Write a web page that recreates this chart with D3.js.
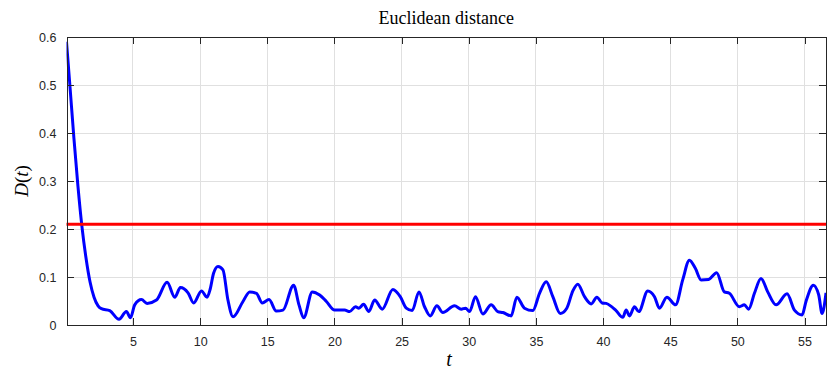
<!DOCTYPE html>
<html><head><meta charset="utf-8">
<script src="https://cdn.jsdelivr.net/npm/d3@7"></script>
<style>body{margin:0;background:#fff}svg{display:block}</style>
</head><body>
<svg id="c" width="827" height="370"></svg>
<script>
const tVals = [0.05,0.3,0.6,0.9,1.2,1.5,1.8,2.1,2.4,2.65,3.27,3.96,4.51,4.81,5.13,5.63,6.05,6.75,7.54,8.11,8.53,9.1,9.52,10.1,10.51,10.75,11.0,11.33,11.7,12.07,12.45,13.19,13.69,14.19,14.63,15.13,15.67,16.17,16.96,17.36,17.71,18.35,18.9,19.4,20.01,20.76,21.13,21.57,21.82,22.17,22.56,22.99,23.56,24.35,24.9,25.35,25.79,26.29,26.71,27.13,27.63,28.07,28.94,29.44,29.76,30.06,30.5,31.05,31.67,32.16,32.54,33.16,33.58,34.15,34.77,35.27,35.77,36.26,36.81,37.3,37.75,38.12,38.62,39.12,39.54,39.93,40.23,40.97,41.47,41.72,41.97,42.34,42.66,43.33,43.83,44.2,44.75,45.4,45.93,46.43,46.87,47.3,47.86,48.46,49.03,49.4,50.15,50.52,50.84,51.27,51.76,52.26,52.88,53.7,54.25,54.82,55.11,55.66,56.06,56.31,56.6];
const dVals = [0.59,0.50,0.39,0.29,0.205,0.14,0.09,0.058,0.040,0.034,0.030,0.012,0.028,0.015,0.042,0.053,0.045,0.052,0.089,0.058,0.078,0.067,0.046,0.071,0.058,0.075,0.108,0.122,0.115,0.052,0.017,0.049,0.069,0.066,0.046,0.053,0.029,0.031,0.083,0.042,0.015,0.069,0.0625,0.049,0.031,0.031,0.028,0.038,0.035,0.043,0.028,0.052,0.033,0.074,0.059,0.035,0.030,0.069,0.038,0.019,0.040,0.026,0.040,0.033,0.035,0.028,0.059,0.023,0.042,0.028,0.026,0.019,0.058,0.035,0.030,0.066,0.090,0.059,0.024,0.035,0.071,0.085,0.059,0.044,0.058,0.046,0.045,0.030,0.016,0.031,0.019,0.038,0.028,0.071,0.059,0.035,0.058,0.042,0.094,0.135,0.118,0.094,0.095,0.109,0.069,0.066,0.038,0.042,0.033,0.066,0.097,0.069,0.042,0.065,0.031,0.021,0.049,0.083,0.0625,0.024,0.067];
const thresholdVal = 0.21;
const xTicks = [5,10,15,20,25,30,35,40,45,50,55];
const yTicks = [0,0.1,0.2,0.3,0.4,0.5,0.6];
const titleText = "Euclidean distance";

const svg = d3.select("#c");
const L = 66.5, R = 826, T = 37, B = 325;
const x = d3.scaleLinear().domain([0.05, 56.6]).range([L, R]);
const y = d3.scaleLinear().domain([0, 0.6]).range([B, T]);
const axisCol = "#262626", gridCol = "#e0e0e0";
const tickFont = "'Liberation Sans', Arial, sans-serif";
const serif = "'Liberation Serif', 'DejaVu Serif', serif";

// grid
const g = svg.append("g");
g.selectAll(".gx").data(xTicks).join("line")
  .attr("x1", d => x(d)).attr("x2", d => x(d)).attr("y1", T).attr("y2", B)
  .attr("stroke", gridCol).attr("stroke-width", 1).attr("shape-rendering","crispEdges");
g.selectAll(".gy").data(yTicks).join("line")
  .attr("x1", L).attr("x2", R).attr("y1", d => y(d)).attr("y2", d => y(d))
  .attr("stroke", gridCol).attr("stroke-width", 1).attr("shape-rendering","crispEdges");

// axes (ticks inward)
const tl = 7;
const xAxisB = d3.axisBottom(x).tickValues(xTicks).tickSizeInner(-tl).tickSizeOuter(0).tickPadding(12).tickFormat(d3.format("d"));
const xAxisT = d3.axisTop(x).tickValues(xTicks).tickSizeInner(-tl).tickSizeOuter(0).tickFormat("");
const yAxisL = d3.axisLeft(y).tickValues(yTicks).tickSizeInner(-tl).tickSizeOuter(0).tickPadding(10).tickFormat(d => d === 0 ? "0" : d3.format(".1f")(d));
const yAxisR = d3.axisRight(y).tickValues(yTicks).tickSizeInner(-tl).tickSizeOuter(0).tickFormat("");

function style(sel) {
  sel.selectAll("path").attr("stroke", axisCol).attr("stroke-width", 1).attr("shape-rendering","crispEdges");
  sel.selectAll("line").attr("stroke", axisCol).attr("shape-rendering","crispEdges");
  sel.selectAll("text").attr("fill", axisCol).attr("font-family", tickFont).attr("font-size", 12.5);
}

// data line
const clip = svg.append("clipPath").attr("id","clp").append("rect").attr("x",L).attr("y",T-5).attr("width",R-L).attr("height",B-T+5);
const line = d3.line().x((d, i) => x(tVals[i])).y(d => y(d)).curve(d3.curveMonotoneX);
svg.append("path").datum(dVals).attr("d", line).attr("fill","none")
  .attr("stroke","#0000ff").attr("stroke-width",3).attr("stroke-linejoin","round").attr("clip-path","url(#clp)");
svg.append("line").attr("x1", x(0.05)).attr("x2", x(56.6)).attr("y1", y(thresholdVal)).attr("y2", y(thresholdVal))
  .attr("stroke","#ff0000").attr("stroke-width",3);

svg.append("g").attr("transform",`translate(0,${B})`).call(xAxisB).call(style);
svg.append("g").attr("transform",`translate(0,${T})`).call(xAxisT).call(style);
svg.append("g").attr("transform",`translate(${L},0)`).call(yAxisL).call(style);
svg.append("g").attr("transform",`translate(${R},0)`).call(yAxisR).call(style);

// title and labels
svg.append("text").attr("x", (L+R)/2).attr("y", 24).attr("text-anchor","middle")
  .attr("font-family", serif).attr("font-size", 18).attr("fill","#000").text(titleText);
svg.append("text").attr("x", 449).attr("y", 366).attr("text-anchor","middle")
  .attr("font-family", serif).attr("font-style","italic").attr("font-size", 20).attr("fill","#000").text("t");
svg.append("text").attr("transform","translate(28,181) rotate(-90)").attr("text-anchor","middle")
  .attr("font-family", serif).attr("font-size", 19).attr("fill","#000")
  .html('<tspan font-style="italic">D</tspan>(<tspan font-style="italic">t</tspan>)');
</script>
</body></html>
